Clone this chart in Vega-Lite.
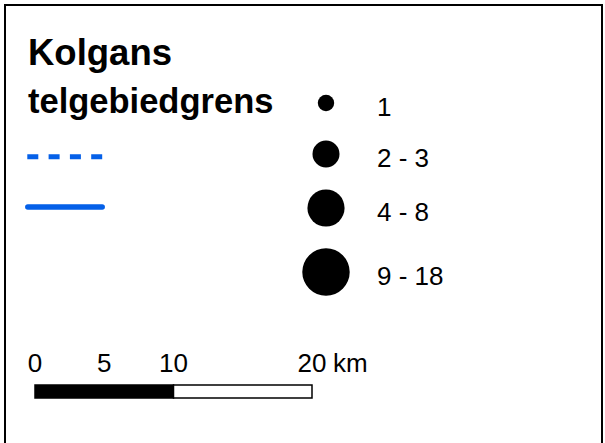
{
  "$schema": "https://vega.github.io/schema/vega-lite/v6.json",
  "width": 605,
  "height": 443,
  "autosize": {"type": "fit", "contains": "padding"},
  "padding": {"left": 5, "top": 5, "right": 3, "bottom": -5},
  "background": "white",
  "config": {
    "view": {"stroke": "#000", "strokeWidth": 2},
    "text": {"font": "Liberation Sans", "color": "#000"}
  },
  "datasets": {
    "klassen": [
      {"klasse": "1", "max": 1},
      {"klasse": "2 - 3", "max": 3},
      {"klasse": "4 - 8", "max": 8},
      {"klasse": "9 - 18", "max": 18}
    ],
    "schaal": [
      {"km": 0, "label": "0"},
      {"km": 5, "label": "5"},
      {"km": 10, "label": "10"},
      {"km": 20, "label": "20"}
    ],
    "segmenten": [
      {"van": 0, "tot": 10, "kleur": "black"},
      {"van": 10, "tot": 20, "kleur": "white"}
    ]
  },
  "layer": [
    {
      "data": {"values": [{"tekst": "Kolgans"}]},
      "mark": {"type": "text", "fontSize": 36.5, "fontWeight": "bold", "align": "left", "baseline": "alphabetic"},
      "encoding": {"text": {"field": "tekst"}, "x": {"value": 23}, "y": {"value": 60}}
    },
    {
      "data": {"values": [{"tekst": "telgebiedgrens"}]},
      "mark": {"type": "text", "fontSize": 34.5, "fontWeight": "bold", "align": "left", "baseline": "alphabetic"},
      "encoding": {"text": {"field": "tekst"}, "x": {"value": 23}, "y": {"value": 108.3}}
    },
    {
      "data": {"values": [{"soort": "gestippeld"}]},
      "mark": {"type": "rule", "color": "#0560e8", "strokeWidth": 5, "strokeDash": [11, 10.3], "strokeCap": "butt"},
      "encoding": {"x": {"value": 22.3}, "x2": {"value": 97.3}, "y": {"value": 151.7}}
    },
    {
      "data": {"values": [{"soort": "doorgetrokken"}]},
      "mark": {"type": "rule", "color": "#0560e8", "strokeWidth": 5.5, "strokeCap": "round"},
      "encoding": {"x": {"value": 22.8}, "x2": {"value": 97.2}, "y": {"value": 202}}
    },
    {
      "data": {"name": "klassen"},
      "mark": {"type": "circle", "color": "black", "opacity": 1},
      "encoding": {
        "x": {"value": 321},
        "y": {"field": "max", "type": "quantitative", "axis": null,
              "scale": {"domain": [1, 3, 8, 18], "range": [98, 149, 203, 267], "nice": false, "zero": false}},
        "size": {"field": "max", "type": "quantitative", "legend": null,
                 "scale": {"domain": [1, 3, 8, 18], "range": [270, 730, 1380, 2250], "zero": false}}
      }
    },
    {
      "data": {"name": "klassen"},
      "mark": {"type": "text", "fontSize": 26, "align": "left", "baseline": "alphabetic", "dy": 12.5},
      "encoding": {
        "x": {"value": 372},
        "y": {"field": "max", "type": "quantitative", "axis": null},
        "text": {"field": "klasse"}
      }
    },
    {
      "data": {"name": "segmenten"},
      "mark": {"type": "rect", "stroke": "black", "strokeWidth": 1.5},
      "encoding": {
        "x": {"field": "van", "type": "quantitative", "axis": null,
              "scale": {"domain": [0, 20], "range": [30, 307], "nice": false, "zero": false}},
        "x2": {"field": "tot"},
        "y": {"value": 380},
        "y2": {"value": 393},
        "fill": {"field": "kleur", "type": "nominal", "scale": null}
      }
    },
    {
      "data": {"name": "schaal"},
      "mark": {"type": "text", "fontSize": 26, "align": "center", "baseline": "alphabetic"},
      "encoding": {
        "x": {"field": "km", "type": "quantitative", "axis": null},
        "y": {"value": 367},
        "text": {"field": "label"}
      }
    },
    {
      "data": {"values": [{"km": 20, "eenheid": "km"}]},
      "mark": {"type": "text", "fontSize": 26, "align": "left", "baseline": "alphabetic", "dx": 21},
      "encoding": {
        "x": {"field": "km", "type": "quantitative", "axis": null},
        "y": {"value": 367},
        "text": {"field": "eenheid"}
      }
    }
  ]
}
